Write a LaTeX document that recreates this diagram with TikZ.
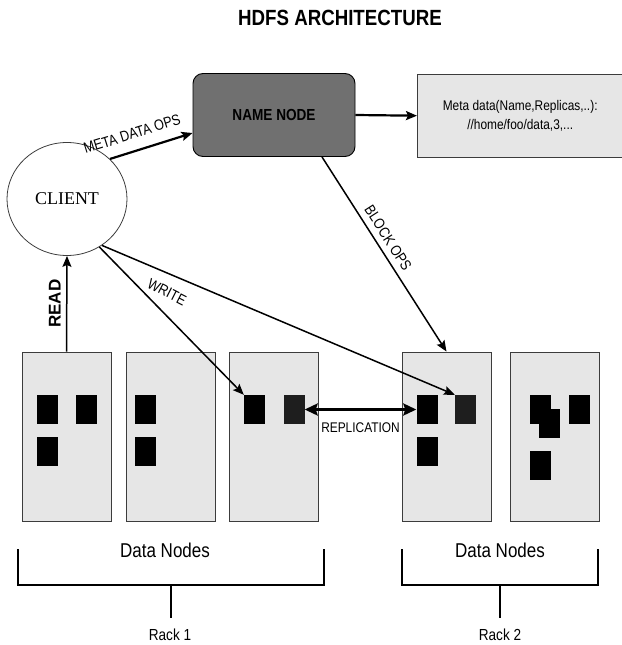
\documentclass[tikz,border=0pt]{standalone}
\usepackage{fontspec}
\setmainfont{Liberation Sans}[FakeStretch=0.85]
\newfontfamily\clientfont{Liberation Serif}
\newfontfamily\widesans{Liberation Sans}
\usetikzlibrary{arrows.meta,shapes.geometric}

\definecolor{namefill}{RGB}{112,112,112}
\definecolor{boxfill}{RGB}{230,230,230}
\definecolor{boxline}{RGB}{60,60,60}
\definecolor{blockdark}{RGB}{30,30,30}

\newcommand{\fsz}[1]{\fontsize{#1}{#1}\selectfont}

\begin{document}
\begin{tikzpicture}[x=1pt,y=-1pt,
  arr/.style={-{Stealth[length=11pt,width=9pt,inset=2pt]}, line width=1.5pt},
  arrthick/.style={arr, line width=2.2pt},
  datanode/.style={draw=boxline, fill=boxfill, line width=0.9pt,
    minimum width=89pt, minimum height=169pt, inner sep=0pt},
  blk/.style={fill=black, minimum width=21pt, minimum height=29pt, inner sep=0pt},
  blkdark/.style={blk, fill=blockdark},
  lbl/.style={font=\fsz{15}, inner sep=2pt},
  bracket/.style={line width=2pt},
]
\useasboundingbox (0,0) rectangle (621,645);

% title
\node[font=\bfseries\fsz{22}] (title) at (340,18) {HDFS ARCHITECTURE};

% name node and metadata store
\node[draw=black, fill=namefill, rounded corners=10pt, line width=0.9pt,
      minimum width=162pt, minimum height=83pt, font=\bfseries\fsz{16}]
      (name) at (274,115) {NAME NODE};
\node[fill=boxfill, anchor=north west, minimum width=206pt, minimum height=83pt,
      inner sep=0pt, align=center, font=\fontsize{14}{19}\selectfont]
      (meta) at (417,74) {Meta data(Name,Replicas,..):\\//home/foo/data,3,...};
\draw[boxline, line width=0.9pt] (meta.north east) -- (meta.north west)
      -- (meta.south west) -- (meta.south east);

% client
\node[draw=boxline, ellipse, line width=0.8pt, minimum width=120pt,
      minimum height=113pt, font=\clientfont\fsz{18}] (client) at (67,199) {CLIENT};

% data nodes
\node[datanode] (dn1) at (66.5,436.5) {};
\node[datanode] (dn2) at (170.5,436.5) {};
\node[datanode] (dn3) at (274,436.5) {};
\node[datanode] (dn4) at (446.5,436.5) {};
\node[datanode] (dn5) at (554.5,436.5) {};

% blocks
\node[blk] (b11) at (47,409.5) {};
\node[blk] (b12) at (86.5,409.5) {};
\node[blk] (b13) at (47,451.5) {};
\node[blk] (b21) at (145.5,409.5) {};
\node[blk] (b22) at (145.5,451.5) {};
\node[blk] (b31) at (254.5,409.5) {};
\node[blkdark] (b32) at (294,409.5) {};
\node[blk] (b41) at (427,409.5) {};
\node[blkdark] (b42) at (465.5,409.5) {};
\node[blk] (b43) at (427,451.5) {};
\node[blk] (b51) at (540,409.5) {};
\node[blk] (b52) at (549.5,423.5) {};
\node[blk] (b53) at (579.5,409.5) {};
\node[blk] (b54) at (540,465.5) {};

% connectors
\draw[arrthick] (client.43) -- ([yshift=-18pt]name.west)
  node[lbl, pos=0.33, sloped, above=9pt] {META DATA OPS};
\draw[arrthick] (name.east) -- (meta.west);
\draw[arr] ([xshift=48pt]name.south) -- (dn4.north)
  node[lbl, pos=0.45, sloped, above=4pt] {BLOCK OPS};
\draw[arr] (dn1.north) -- (client.south)
  node[midway, sloped, above=2pt, font=\widesans\bfseries\fsz{17}] {READ};
\draw[arr] (client.-56) -- (b31.north west);
\draw[arr] (client.-53) -- (b42.north west);
\node[lbl, rotate=-27] (write) at (167,292) {WRITE};
\draw[{Stealth[length=13pt,width=12pt,inset=2pt]}-{Stealth[length=13pt,width=12pt,inset=2pt]},
      line width=2.6pt] (b32.east) -- (b41.west)
  node[font=\fsz{14}, inner sep=2pt, midway, below=10pt] {REPLICATION};

% racks
\node[font=\fsz{20}] (dnl1) at (165,550) {Data Nodes};
\node[font=\fsz{20}] (dnl2) at (500,550) {Data Nodes};
\draw[bracket] (18,549) -- (18,585) -- (324,585) -- (324,549);
\draw[bracket] (402,549) -- (402,585) -- (598,585) -- (598,549);
\coordinate (r1) at (171,585);
\coordinate (r2) at (500,585);
\draw[bracket] (r1) -- ++(0,33);
\draw[bracket] (r2) -- ++(0,33);
\node[font=\fsz{16}] (rack1) at (170,635) {Rack 1};
\node[font=\fsz{16}] (rack2) at (500,635) {Rack 2};
\end{tikzpicture}
\end{document}
